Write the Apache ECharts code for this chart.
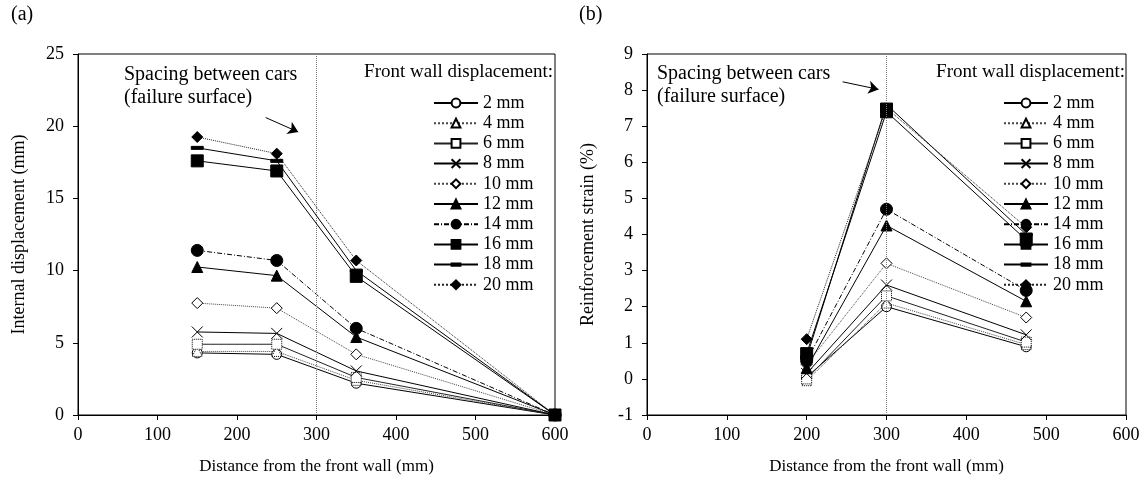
<!DOCTYPE html>
<html><head><meta charset="utf-8">
<script src="https://cdn.jsdelivr.net/npm/echarts@6/dist/echarts.min.js"></script>
<style>html,body{margin:0;padding:0;background:#fff}#c{width:1143px;height:484px}</style>
</head><body><div id="c"></div>
<script>
// ---- data ----
const seriesNames = ['2 mm','4 mm','6 mm','8 mm','10 mm','12 mm','14 mm','16 mm','18 mm','20 mm'];
// (a) internal displacement (mm)
const xA = [150, 250, 350, 600];
const dA_2  = [4.3, 4.2, 2.2, 0];
const dA_4  = [4.4, 4.4, 2.4, 0];
const dA_6  = [4.9, 4.9, 2.6, 0];
const dA_8  = [5.75, 5.65, 3.05, 0];
const dA_10 = [7.75, 7.4, 4.2, 0];
const dA_12 = [10.25, 9.65, 5.4, 0];
const dA_14 = [11.4, 10.7, 6.0, 0];
const dA_16 = [17.6, 16.9, 9.6, 0];
const dA_18 = [18.5, 17.6, 10.0, 0];
const dA_20 = [19.25, 18.1, 10.7, 0];
// (b) reinforcement strain (%)
const xB = [200, 300, 475];
const dB_2  = [0.05, 2.0, 0.89];
const dB_4  = [-0.05, 2.1, 0.95];
const dB_6  = [0.0, 2.3, 1.02];
const dB_8  = [0.15, 2.6, 1.22];
const dB_10 = [0.4, 3.2, 1.7];
const dB_12 = [0.3, 4.25, 2.15];
const dB_14 = [0.5, 4.7, 2.45];
const dB_16 = [0.7, 7.4, 3.85];
const dB_18 = [0.6, 7.6, 4.0];
const dB_20 = [1.1, 7.5, 4.2];
const dataA = [dA_2,dA_4,dA_6,dA_8,dA_10,dA_12,dA_14,dA_16,dA_18,dA_20];
const dataB = [dB_2,dB_4,dB_6,dB_8,dB_10,dB_12,dB_14,dB_16,dB_18,dB_20];

// ---- styles ----
const FONT = 'Liberation Serif';
const X_PATH = 'path://M0,0L10,10M10,0L0,10';
const DASH_PATH = 'path://M0,0L0,0M12,12L12,12M0,4.5L12,4.5L12,7.5L0,7.5Z';
const styles = [
  {symbol:'circle', size:10, fill:'#fff', border:'solid', line:'solid', lc:'#000'},
  {symbol:'triangle', size:10, fill:'#fff', border:'dotted', line:'dotted', lc:'#444'},
  {symbol:'rect', size:10, fill:'#fff', border:'dotted', line:'solid', lc:'#222'},
  {symbol:X_PATH, size:11, fill:'none', border:'solid', line:'solid', lc:'#000'},
  {symbol:'diamond', size:11, fill:'#fff', border:'solid', line:'dotted', lc:'#444'},
  {symbol:'triangle', size:11, fill:'#000', border:'solid', line:'solid', lc:'#000'},
  {symbol:'circle', size:12, fill:'#000', border:'solid', line:[5,2,1,2], lc:'#000'},
  {symbol:'rect', size:12, fill:'#000', border:'solid', line:'solid', lc:'#000'},
  {symbol:DASH_PATH, size:12, fill:'#000', border:'solid', line:'solid', lc:'#000'},
  {symbol:'diamond', size:11, fill:'#000', border:'solid', line:'dotted', lc:'#222'}
];

function mkSeries(xs, data, axisIdx) {
  return seriesNames.map((name, i) => {
    const s = styles[i];
    return {
      name, type:'line', xAxisIndex:axisIdx, yAxisIndex:axisIdx,
      data: xs.map((x, j) => [x, data[i][j]]),
      symbol:s.symbol, symbolSize:s.size, showSymbol:true, animation:false,
      lineStyle:{color:s.lc, width:1, type:s.line},
      itemStyle:{color:s.fill, borderColor:'#000', borderWidth:1, borderType:s.border},
      emphasis:{disabled:true}, z: 3
    };
  });
}

function vline(axisIdx) {
  return {
    type:'line', xAxisIndex:axisIdx, yAxisIndex:axisIdx, data:[], silent:true,
    markLine:{silent:true, symbol:'none', label:{show:false},
      lineStyle:{color:'#777', type:'dotted', width:1},
      data:[{xAxis:300}]},
    z:1
  };
}
function arrow(axisIdx, from, to) {
  return {
    type:'line', xAxisIndex:axisIdx, yAxisIndex:axisIdx, data:[], silent:true,
    markLine:{silent:true, symbol:['none','arrow'], symbolSize:10, label:{show:false},
      lineStyle:{color:'#000', type:'solid', width:1},
      itemStyle:{color:'#000'},
      data:[[{coord:from},{coord:to}]]},
    z:2
  };
}

const axisText = {fontFamily:FONT, fontSize:18, color:'#000'};
function xAx(idx) {
  return {type:'value', gridIndex:idx, min:0, max:600, interval:100,
    name:'Distance from the front wall (mm)', nameLocation:'middle', nameGap:43,
    nameTextStyle:{fontFamily:FONT, fontSize:17, color:'#000'},
    axisLine:{onZero:false, lineStyle:{color:'#000'}}, axisTick:{inside:false, length:5, lineStyle:{color:'#000'}},
    axisLabel:Object.assign({margin:11}, axisText), splitLine:{show:false}};
}
function yAx(idx, min, max, interval, name) {
  return {type:'value', gridIndex:idx, min, max, interval,
    name, nameLocation:'middle', nameGap:50,
    nameTextStyle:{fontFamily:FONT, fontSize:18, color:'#000'},
    axisLine:{show:true, onZero:false, lineStyle:{color:'#000'}}, axisTick:{show:true, inside:false, length:5, lineStyle:{color:'#000'}},
    axisLabel:Object.assign({margin:14}, axisText), splitLine:{show:false}};
}

const legendBase = {
  orient:'vertical', itemWidth:44, itemHeight:11, itemGap:0.2,
  textStyle:{fontFamily:FONT, fontSize:18, color:'#000', lineHeight:20},
  data:seriesNames, selectedMode:false
};

const chart = echarts.init(document.getElementById('c'), null, {renderer:'canvas'});
chart.setOption({
  animation:false,
  backgroundColor:'#fff',
  grid:[
    {left:78, top:54, width:477, height:361, show:true, borderColor:'#000', borderWidth:1, backgroundColor:'transparent'},
    {left:647, top:54, width:479, height:361, show:true, borderColor:'#000', borderWidth:1, backgroundColor:'transparent'}
  ],
  xAxis:[xAx(0), xAx(1)],
  yAxis:[yAx(0,0,25,5,'Internal displacement (mm)'), yAx(1,-1,9,1,'Reinforcement strain (%)')],
  legend:[
    Object.assign({}, legendBase, {left:428, top:88}),
    Object.assign({}, legendBase, {left:998, top:88})
  ],
  graphic:[
    {type:'text', left:11, top:5, style:{text:'(a)', font:'20px '+FONT, fill:'#000'}},
    {type:'text', left:579, top:5, style:{text:'(b)', font:'20px '+FONT, fill:'#000'}},
    {type:'text', left:124, top:63, style:{text:'Spacing between cars\n(failure surface)', font:'20px '+FONT, fill:'#000', lineHeight:23}},
    {type:'text', left:657, top:62, style:{text:'Spacing between cars\n(failure surface)', font:'20px '+FONT, fill:'#000', lineHeight:23}},
    {type:'text', right:590, top:63, style:{text:'Front wall displacement:', font:'19px '+FONT, fill:'#000', align:'right'}},
    {type:'text', right:18, top:63, style:{text:'Front wall displacement:', font:'19px '+FONT, fill:'#000', align:'right'}}
  ],
  series:[
    vline(0), vline(1),
    arrow(0,[236,20.6],[277,19.6]),
    arrow(1,[245,8.23],[290,8.02]),
    ...mkSeries(xA, dataA, 0),
    ...mkSeries(xB, dataB, 1)
  ]
});
</script></body></html>
